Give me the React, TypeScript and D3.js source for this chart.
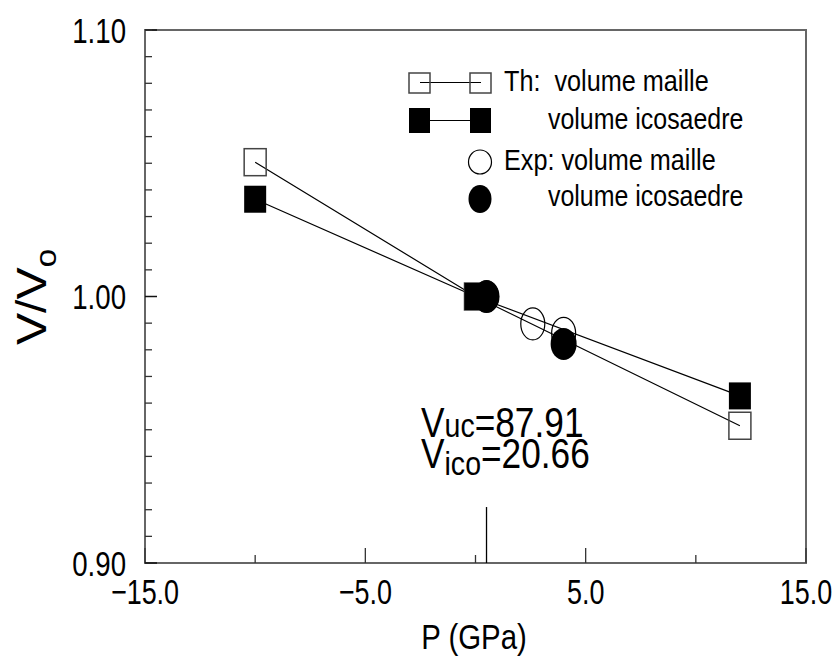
import React from "react";
import * as d3 from "d3";

// pressure (GPa) and relative volumes
const thPressure = [-10, 0, 12];
const thCell = [1.0504, 1.0, 0.9515];
const thIco = [1.0365, 1.0, 0.9627];

const expCellPressure = [0.5, 2.6, 4.0];
const expCell = [1.0, 0.9897, 0.9862];
const expIcoPressure = [0.5, 4.0];
const expIco = [1.0, 0.9822];

// reference marker at P = 0.5 GPa
const refP = 0.5;
const refTop = 0.921;

const xMajor = [-15, -5, 5, 15];
const xMajorLabels = ["\u221215.0", "\u22125.0", "5.0", "15.0"];
const xMinor = [-10, 0, 10];
const yMajor = [0.9, 1.0, 1.1];
const yMajorLabels = ["0.90", "1.00", "1.10"];
const yMinor = d3.range(0.91, 1.1, 0.01).filter((v) => Math.abs(v - 1.0) > 0.001);

const FONT = "'Liberation Sans', Arial, Helvetica, sans-serif";

const W = 839;
const H = 662;
const margin = { top: 30, right: 33, bottom: 99, left: 145 };

/* text with horizontal squeeze, the original fonts look condensed */
const Txt = ({ x, y, size, sx = 1, anchor = "start", children }: any) => (
  <text
    transform={`translate(${x},${y}) scale(${sx},1)`}
    fontSize={size}
    fontFamily={FONT}
    textAnchor={anchor}
    fill="#000"
  >
    {children}
  </text>
);

export default function App() {
  const x = d3
    .scaleLinear()
    .domain([-15, 15])
    .range([margin.left, W - margin.right]);
  const y = d3
    .scaleLinear()
    .domain([0.9, 1.1])
    .range([H - margin.bottom, margin.top]);

  const line = d3
    .line<[number, number]>()
    .x((d) => x(d[0]))
    .y((d) => y(d[1]));

  const thCellPts = thPressure.map((p, i) => [p, thCell[i]] as [number, number]);
  const thIcoPts = thPressure.map((p, i) => [p, thIco[i]] as [number, number]);

  const x0 = x(-15);
  const x1 = x(15);
  const y0 = y(0.9);
  const y1 = y(1.1);

  // marker sizes
  const sqW = 22;
  const sqH = 27;

  return (
    <svg
      width={W}
      height={H}
      style={{ position: "absolute", left: 0, top: 0, background: "#fff" }}
    >
      {/* frame */}
      <rect
        x={x0}
        y={y1}
        width={x1 - x0}
        height={y0 - y1}
        fill="none"
        stroke="#666"
        strokeWidth={2}
      />

      {/* x ticks */}
      {xMajor.map((v) => (
        <line key={"xM" + v} x1={x(v)} x2={x(v)} y1={y0} y2={y0 - 15} stroke="#333" strokeWidth={1.3} />
      ))}
      {xMinor.map((v) => (
        <line key={"xm" + v} x1={x(v)} x2={x(v)} y1={y0} y2={y0 - 8} stroke="#333" strokeWidth={1.3} />
      ))}
      {xMajor.map((v, i) => (
        <Txt key={"xl" + v} x={x(v)} y={604} size={35} sx={0.77} anchor="middle">
          {xMajorLabels[i]}
        </Txt>
      ))}

      {/* y ticks */}
      {yMajor.map((v) => (
        <line key={"yM" + v} x1={x0} x2={x0 + 12} y1={y(v)} y2={y(v)} stroke="#111" strokeWidth={1.5} />
      ))}
      {yMinor.map((v) => (
        <line key={"ym" + v.toFixed(2)} x1={x0} x2={x0 + 7} y1={y(v)} y2={y(v)} stroke="#333" strokeWidth={1.3} />
      ))}
      {yMajor.map((v, i) => (
        <Txt key={"yl" + v} x={126} y={y(v) + 12.5} size={35} sx={0.79} anchor="end">
          {yMajorLabels[i]}
        </Txt>
      ))}

      {/* axis titles */}
      <Txt x={474} y={649} size={35} sx={0.84} anchor="middle">
        P (GPa)
      </Txt>
      <g transform="translate(46,345) rotate(-90)">
        <Txt x={0} y={0} size={43} sx={1.12}>
          V/V<tspan fontSize={30} dy={10}>o</tspan>
        </Txt>
      </g>

      {/* reference line */}
      <line x1={x(refP)} x2={x(refP)} y1={y(0.9)} y2={y(refTop)} stroke="#000" strokeWidth={1.3} />

      {/* theory lines */}
      <path d={line(thCellPts) || ""} fill="none" stroke="#000" strokeWidth={1.2} />
      <path d={line(thIcoPts) || ""} fill="none" stroke="#000" strokeWidth={1.2} />

      {/* theory markers */}
      {thCellPts.map((d, i) => (
        <rect
          key={"tc" + i}
          x={x(d[0]) - sqW / 2}
          y={y(d[1]) - sqH / 2}
          width={sqW}
          height={sqH}
          fill="none"
          stroke="#444"
          strokeWidth={1.5}
        />
      ))}
      {thIcoPts.map((d, i) => (
        <rect
          key={"ti" + i}
          x={x(d[0]) - sqW / 2}
          y={y(d[1]) - sqH / 2}
          width={sqW}
          height={sqH}
          fill="#000"
        />
      ))}

      {/* experiment markers */}
      {expCellPressure.map((p, i) => (
        <ellipse
          key={"ec" + i}
          cx={x(p)}
          cy={y(expCell[i])}
          rx={12}
          ry={16}
          fill="none"
          stroke="#000"
          strokeWidth={1.2}
        />
      ))}
      {expIcoPressure.map((p, i) => (
        <ellipse key={"ei" + i} cx={x(p)} cy={y(expIco[i])} rx={13} ry={16} fill="#000" />
      ))}

      {/* legend */}
      <g>
        <line x1={420} x2={481} y1={82.5} y2={82.5} stroke="#000" strokeWidth={1.2} />
        <rect x={409} y={73} width={21} height={20} fill="none" stroke="#444" strokeWidth={1.5} />
        <rect x={470} y={73} width={21} height={20} fill="none" stroke="#444" strokeWidth={1.5} />
        <Txt x={504} y={91} size={29} sx={0.87}>
          Th:{"\u00a0\u00a0"}volume maille
        </Txt>

        <line x1={420} x2={481} y1={120.5} y2={120.5} stroke="#000" strokeWidth={1.2} />
        <rect x={409} y={108} width={21} height={25} fill="#000" />
        <rect x={470} y={108} width={21} height={25} fill="#000" />
        <Txt x={548} y={129} size={29} sx={0.86}>
          volume icosaedre
        </Txt>

        <ellipse cx={480} cy={162} rx={11.5} ry={12} fill="none" stroke="#000" strokeWidth={1.2} />
        <Txt x={504} y={170} size={29} sx={0.87}>
          Exp: volume maille
        </Txt>

        <ellipse cx={480} cy={199} rx={11.5} ry={14} fill="#000" />
        <Txt x={548} y={206} size={29} sx={0.86}>
          volume icosaedre
        </Txt>
      </g>

      {/* annotation */}
      <Txt x={421} y={437} size={42} sx={0.84}>
        V<tspan fontSize={34}>uc</tspan>=87.91
      </Txt>
      <Txt x={421} y={468} size={42} sx={0.84}>
        V<tspan fontSize={34} dy={7}>ico</tspan>
        <tspan dy={-7}>=20.66</tspan>
      </Txt>
    </svg>
  );
}
